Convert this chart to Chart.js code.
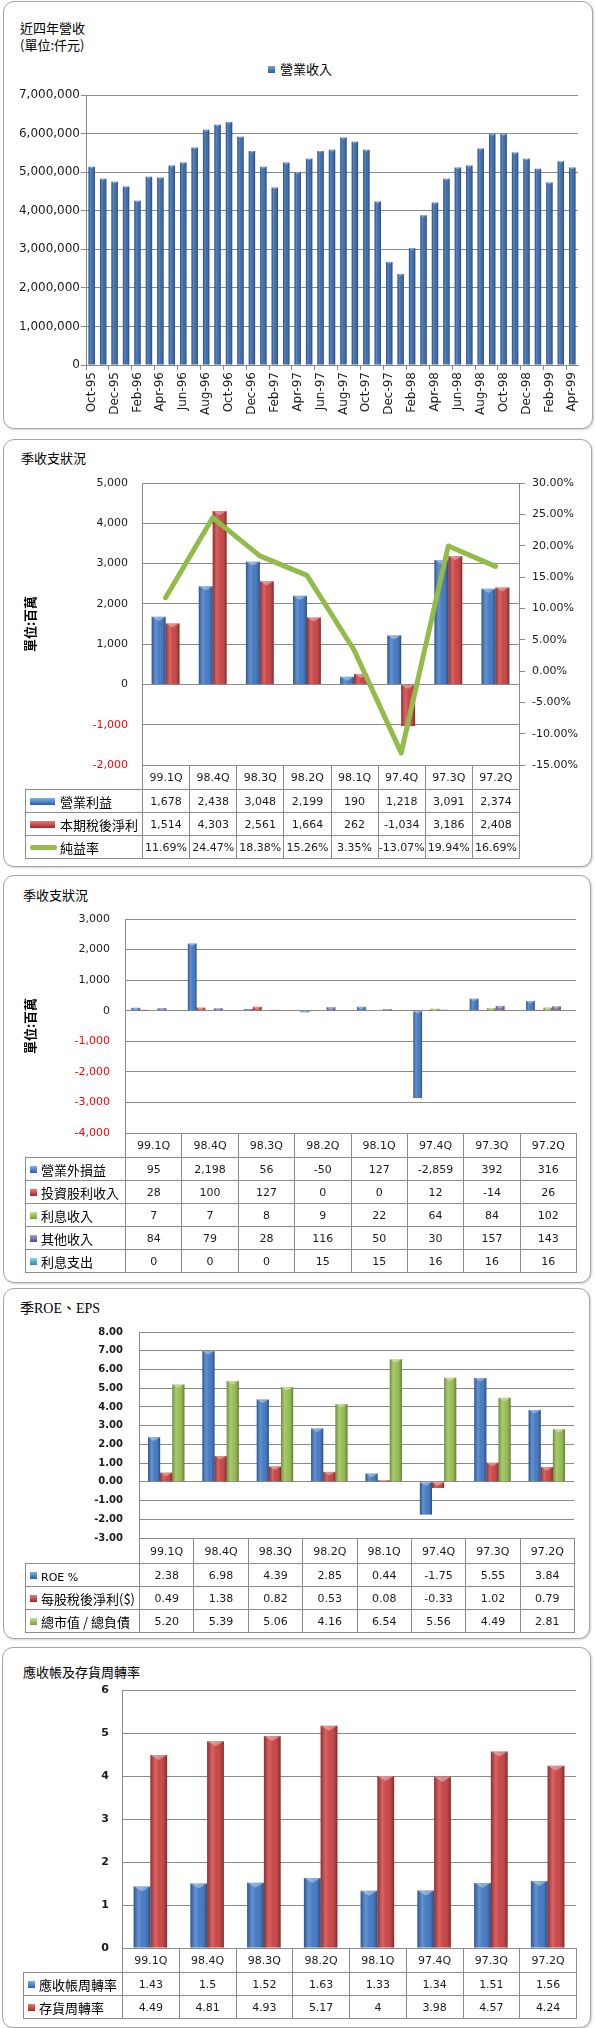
<!DOCTYPE html>
<html><head><meta charset="utf-8">
<script src="https://cdn.jsdelivr.net/npm/chart.js@4.4.1/dist/chart.umd.min.js"></script>
<style>
html,body{margin:0;padding:0;background:#fff;}
body{position:relative;width:595px;height:2028px;overflow:hidden;font-family:"DejaVu Sans",sans-serif;}
.panel{position:absolute;border:1px solid #a6a6a6;border-radius:11px;box-shadow:1px 1px 2px rgba(0,0,0,0.18);background:#fff;}
.ttl{position:absolute;font-family:"Noto Sans CJK TC",sans-serif;font-size:13px;color:#000;line-height:17px;white-space:nowrap;}
.ttl.serif{font-family:"Liberation Serif","Noto Sans CJK TC",serif;font-size:14px;}
canvas.c{position:absolute;left:0;}
.leg{position:absolute;font-family:"Noto Sans CJK TC",sans-serif;font-size:13px;color:#000;white-space:nowrap;line-height:16px;}
table.dt{position:absolute;border-collapse:collapse;table-layout:fixed;font-family:"DejaVu Sans",sans-serif;font-size:11px;color:#1a1a1a;}
table.dt td{border:1px solid #8c8c8c;text-align:center;padding:0;white-space:nowrap;overflow:hidden;}
table.dt td.blank{border:none;}
table.dt td.lab{text-align:left;font-family:"Noto Sans CJK TC",sans-serif;font-size:13px;padding-left:4px;color:#000;}
.key{display:inline-block;vertical-align:middle;margin-right:4px;position:relative;top:-1px;}
</style></head><body>

<div class="panel" style="left:3px;top:1px;width:588px;height:426px;"></div>
<div class="panel" style="left:3px;top:439px;width:587px;height:426px;"></div>
<div class="panel" style="left:3px;top:875px;width:586px;height:406px;"></div>
<div class="panel" style="left:3px;top:1288px;width:585px;height:349px;"></div>
<div class="panel" style="left:2px;top:1647px;width:587px;height:379px;"></div>

<div class="ttl" style="left:20px;top:19px;">近四年營收<br>(單位:仟元)</div>
<div class="leg" style="left:268px;top:61px;"><span class="key" style="width:7px;height:7px;margin-right:5px;background:linear-gradient(#6f9fdc,#2d5c9c);"></span>營業收入</div>
<div class="ttl" style="left:21px;top:449px;">季收支狀況</div>
<div class="ttl" style="left:23px;top:886px;">季收支狀況</div>
<div class="ttl serif" style="left:20px;top:1300px;">季ROE、EPS</div>
<div class="ttl" style="left:23px;top:1663px;">應收帳及存貨周轉率</div>

<canvas id="c1" class="c" width="595" height="430" style="top:0px;width:595px;height:430px;"></canvas>
<canvas id="c2" class="c" width="595" height="427" style="top:439px;width:595px;height:427px;"></canvas>
<canvas id="c3" class="c" width="595" height="407" style="top:875px;width:595px;height:407px;"></canvas>
<canvas id="c4" class="c" width="595" height="350" style="top:1288px;width:595px;height:350px;"></canvas>
<canvas id="c5" class="c" width="595" height="380" style="top:1647px;width:595px;height:380px;"></canvas>

<script>
// ---------- DATA ----------
const revenueMonths = ['Oct-95','Nov-95','Dec-95','Jan-96','Feb-96','Mar-96','Apr-96','May-96','Jun-96','Jul-96','Aug-96','Sep-96',
  'Oct-96','Nov-96','Dec-96','Jan-97','Feb-97','Mar-97','Apr-97','May-97','Jun-97','Jul-97','Aug-97','Sep-97',
  'Oct-97','Nov-97','Dec-97','Jan-98','Feb-98','Mar-98','Apr-98','May-98','Jun-98','Jul-98','Aug-98','Sep-98',
  'Oct-98','Nov-98','Dec-98','Jan-99','Feb-99','Mar-99','Apr-99'];
const revenueValues = [5140000,4830000,4750000,4630000,4260000,4880000,4860000,5170000,5250000,5640000,6100000,6230000,
  6300000,5920000,5550000,5140000,4600000,5250000,5000000,5350000,5550000,5580000,5900000,5790000,
  5580000,4240000,2670000,2360000,3030000,3880000,4210000,4830000,5120000,5170000,5610000,5990000,
  5990000,5510000,5350000,5090000,4730000,5280000,5120000];
const revenueTicks = [0,1000000,2000000,3000000,4000000,5000000,6000000,7000000];

const quarters = ['99.1Q','98.4Q','98.3Q','98.2Q','98.1Q','97.4Q','97.3Q','97.2Q'];

const operatingIncome = [1678,2438,3048,2199,190,1218,3091,2374];
const netIncome = [1514,4303,2561,1664,262,-1034,3186,2408];
const netMargin = [11.69,24.47,18.38,15.26,3.35,-13.07,19.94,16.69];

const nonOperating = [95,2198,56,-50,127,-2859,392,316];
const investDividend = [28,100,127,0,0,12,-14,26];
const interestIncome = [7,7,8,9,22,64,84,102];
const otherIncome = [84,79,28,116,50,30,157,143];
const interestExpense = [0,0,0,15,15,16,16,16];

const roe = [2.38,6.98,4.39,2.85,0.44,-1.75,5.55,3.84];
const eps = [0.49,1.38,0.82,0.53,0.08,-0.33,1.02,0.79];
const mvToDebt = [5.20,5.39,5.06,4.16,6.54,5.56,4.49,2.81];

const arTurnover = [1.43,1.5,1.52,1.63,1.33,1.34,1.51,1.56];
const invTurnover = [4.49,4.81,4.93,5.17,4,3.98,4.57,4.24];

// ---------- STYLE ----------
const BLUE = '#3a73c2', RED = '#c83a3a', GREEN = '#92bb4a', PURPLE = '#7d62a6', AQUA = '#48aec8';
const GRID = '#8a8a8a', TXT = '#1a1a1a';
Chart.defaults.font.family = 'DejaVu Sans';
Chart.defaults.animation = false;

const bevel = {
  id: 'bevel',
  afterDatasetDraw(chart, args) {
    const meta = args.meta;
    if (meta.type !== 'bar' || meta.hidden) return;
    const ctx = chart.ctx;
    const a = chart.chartArea;
    ctx.save();
    ctx.beginPath(); ctx.rect(a.left, a.top, a.right - a.left, a.bottom - a.top); ctx.clip();
    meta.data.forEach(el => {
      const x = el.x, y = el.y, base = el.base, w = el.width;
      const top = Math.min(y, base), bot = Math.max(y, base), h = bot - top;
      if (h < 0.5) return;
      const l = x - w / 2;
      const g = ctx.createLinearGradient(l, 0, l + w, 0);
      g.addColorStop(0, 'rgba(0,0,0,0.25)');
      g.addColorStop(0.3, 'rgba(255,255,255,0.22)');
      g.addColorStop(0.55, 'rgba(255,255,255,0.06)');
      g.addColorStop(1, 'rgba(0,0,0,0.35)');
      ctx.fillStyle = g;
      ctx.fillRect(l, top, w, h);
      const capH = Math.min(w * 0.3, h);
      ctx.fillStyle = 'rgba(255,255,255,0.35)';
      ctx.beginPath(); ctx.moveTo(l, top); ctx.lineTo(l + w, top); ctx.lineTo(x, top + capH); ctx.closePath(); ctx.fill();
    });
    ctx.restore();
  }
};
Chart.register(bevel);

const fmtInt = v => Number(v).toLocaleString('en-US');
const negRed = c => (c.tick && c.tick.value < 0) ? '#ff0000' : TXT;
const fixW = w => s => { s.width = w; };
const fixH = h => s => { s.height = h; };

function hiddenX(h) {
  return { type: 'category', offset: true, afterFit: fixH(h),
    ticks: { display: false }, grid: { display: false },
    border: { display: true, color: GRID, width: 1 } };
}

// ---------- CHART 1 ----------
new Chart(document.getElementById('c1'), {
  type: 'bar',
  data: { labels: revenueMonths, datasets: [{ label: '營業收入', data: revenueValues, backgroundColor: '#2f62a8',
    categoryPercentage: 1, barPercentage: 0.56 }] },
  options: {
    responsive: false,
    layout: { padding: { left: 6, right: 17, top: 95, bottom: 10 } },
    plugins: { legend: { display: false }, tooltip: { enabled: false } },
    scales: {
      x: { offset: true, afterFit: fixH(55),
        grid: { display: true, drawOnChartArea: false, drawTicks: true, tickLength: 5,
          tickColor: c => (c.index % 2 === 0) ? GRID : 'rgba(0,0,0,0)' },
        border: { display: true, color: GRID },
        ticks: { autoSkip: false, minRotation: 90, maxRotation: 90, padding: 2, color: TXT,
          font: { size: 12 },
          callback: function (v, i) { return i % 2 === 0 ? this.getLabelForValue(v) : ''; } } },
      y: { min: 0, max: 7000000, afterFit: fixW(80),
        afterBuildTicks: s => { s.ticks = revenueTicks.map(v => ({ value: v })); },
        grid: { color: GRID, drawTicks: true, tickLength: 5 },
        border: { display: true, color: GRID },
        ticks: { padding: 1, color: TXT, font: { size: 12 }, callback: v => fmtInt(v) } }
    }
  }
});

// ---------- TABLE helper ----------
function keyHTML(k) {
  if (k.kind === 'wide') return `<span class="key" style="width:25px;height:7px;margin-right:5px;background:linear-gradient(${k.c1},${k.c2});"></span>`;
  if (k.kind === 'line') return `<span class="key" style="width:27px;height:5px;margin-right:3px;border-radius:3px;background:${k.c1};"></span>`;
  return `<span class="key" style="width:7px;height:7px;background:linear-gradient(${k.c1},${k.c2});"></span>`;
}
function buildTable(chart, canvasTop, tableLeft, hdrH, rowH, rows) {
  const a = chart.chartArea;
  const plotL = a.left, plotR = a.right, top = canvasTop + a.bottom;
  const n = quarters.length, colW = (plotR - plotL) / n;
  const t = document.createElement('table');
  t.className = 'dt';
  t.style.left = tableLeft + 'px'; t.style.top = top + 'px'; t.style.width = (plotR - tableLeft) + 'px';
  let html = '<colgroup><col style="width:' + (plotL - tableLeft) + 'px">';
  for (let i = 0; i < n; i++) html += '<col style="width:' + colW + 'px">';
  html += '</colgroup>';
  html += '<tr style="height:' + hdrH + 'px"><td class="blank"></td>' + quarters.map(q => '<td>' + q + '</td>').join('') + '</tr>';
  rows.forEach(r => {
    html += '<tr style="height:' + rowH + 'px"><td class="lab">' + keyHTML(r.key) + r.label + '</td>' +
      r.values.map(v => '<td>' + r.fmt(v) + '</td>').join('') + '</tr>';
  });
  t.innerHTML = html;
  document.body.appendChild(t);
}

// ---------- CHART 2 ----------
const ch2 = new Chart(document.getElementById('c2'), {
  type: 'bar',
  data: { labels: quarters, datasets: [
    { type: 'line', label: '純益率', data: netMargin, yAxisID: 'y1', borderColor: GREEN, borderWidth: 5,
      pointRadius: 0, tension: 0, borderJoinStyle: 'round', borderCapStyle: 'round', order: 0 },
    { label: '營業利益', data: operatingIncome, backgroundColor: BLUE, yAxisID: 'y', order: 1,
      categoryPercentage: 0.59, barPercentage: 1 },
    { label: '本期稅後淨利', data: netIncome, backgroundColor: RED, yAxisID: 'y', order: 1,
      categoryPercentage: 0.59, barPercentage: 1 }
  ] },
  options: {
    responsive: false,
    layout: { padding: { left: 18, right: 6, top: 44, bottom: 101 } },
    plugins: { legend: { display: false }, tooltip: { enabled: false } },
    scales: {
      x: hiddenX(0),
      y: { position: 'left', min: -2000, max: 5000, afterFit: fixW(124),
        grid: { color: GRID, drawTicks: false },
        border: { display: true, color: GRID },
        title: { display: true, text: '單位:百萬', color: '#000', font: { family: 'Noto Sans CJK TC', size: 13, weight: 'bold' } },
        ticks: { stepSize: 1000, padding: 14, color: negRed, font: { size: 11 }, callback: v => fmtInt(v) } },
      y1: { position: 'right', min: -15, max: 30, afterFit: fixW(70),
        grid: { drawOnChartArea: false, drawTicks: true, tickLength: 6, color: GRID },
        border: { display: true, color: GRID },
        ticks: { stepSize: 5, padding: 7, color: TXT, font: { size: 11 }, callback: v => Number(v).toFixed(2) + '%' } }
    }
  }
});
buildTable(ch2, 439, 25, 24, 23, [
  { label: '營業利益', key: { kind: 'wide', c1: '#7fb0ea', c2: '#2a5ea8' }, values: operatingIncome, fmt: fmtInt },
  { label: '本期稅後淨利', key: { kind: 'wide', c1: '#e87a7a', c2: '#a82424' }, values: netIncome, fmt: fmtInt },
  { label: '純益率', key: { kind: 'line', c1: GREEN }, values: netMargin, fmt: v => v.toFixed(2) + '%' }
]);

// ---------- CHART 3 ----------
const bp3 = { categoryPercentage: 0.77, barPercentage: 1 };
const ch3 = new Chart(document.getElementById('c3'), {
  type: 'bar',
  data: { labels: quarters, datasets: [
    Object.assign({ label: '營業外損益', data: nonOperating, backgroundColor: BLUE }, bp3),
    Object.assign({ label: '投資股利收入', data: investDividend, backgroundColor: RED }, bp3),
    Object.assign({ label: '利息收入', data: interestIncome, backgroundColor: GREEN }, bp3),
    Object.assign({ label: '其他收入', data: otherIncome, backgroundColor: PURPLE }, bp3),
    Object.assign({ label: '利息支出', data: interestExpense, backgroundColor: AQUA }, bp3)
  ] },
  options: {
    responsive: false,
    layout: { padding: { left: 18, right: 19, top: 44, bottom: 149 } },
    plugins: { legend: { display: false }, tooltip: { enabled: false } },
    scales: {
      x: hiddenX(0),
      y: { min: -4000, max: 3000, afterFit: fixW(107),
        grid: { color: GRID, drawTicks: false },
        border: { display: true, color: GRID },
        title: { display: true, text: '單位:百萬', color: '#000', font: { family: 'Noto Sans CJK TC', size: 13, weight: 'bold' } },
        ticks: { stepSize: 1000, padding: 15, color: negRed, font: { size: 11 }, callback: v => fmtInt(v) } }
    }
  }
});
buildTable(ch3, 875, 25, 24, 23, [
  { label: '營業外損益', key: { kind: 'sq', c1: '#7fb0ea', c2: '#2a5ea8' }, values: nonOperating, fmt: fmtInt },
  { label: '投資股利收入', key: { kind: 'sq', c1: '#e87a7a', c2: '#a82424' }, values: investDividend, fmt: fmtInt },
  { label: '利息收入', key: { kind: 'sq', c1: '#c8e08a', c2: '#7a9c30' }, values: interestIncome, fmt: fmtInt },
  { label: '其他收入', key: { kind: 'sq', c1: '#b09ad0', c2: '#5e4688' }, values: otherIncome, fmt: fmtInt },
  { label: '利息支出', key: { kind: 'sq', c1: '#8ad4e8', c2: '#2a8ca8' }, values: interestExpense, fmt: fmtInt }
]);

// ---------- CHART 4 ----------
const bp4 = { categoryPercentage: 0.67, barPercentage: 1 };
const ch4 = new Chart(document.getElementById('c4'), {
  type: 'bar',
  data: { labels: quarters, datasets: [
    Object.assign({ label: 'ROE %', data: roe, backgroundColor: BLUE }, bp4),
    Object.assign({ label: '每股稅後淨利($)', data: eps, backgroundColor: RED }, bp4),
    Object.assign({ label: '總市值 / 總負債', data: mvToDebt, backgroundColor: GREEN }, bp4)
  ] },
  options: {
    responsive: false,
    layout: { padding: { left: 6, right: 21, top: 44, bottom: 100 } },
    plugins: { legend: { display: false }, tooltip: { enabled: false } },
    scales: {
      x: hiddenX(0),
      y: { min: -3, max: 8, afterFit: fixW(133),
        grid: { color: GRID, drawTicks: false },
        border: { display: true, color: GRID },
        ticks: { stepSize: 1, padding: 16, color: TXT, font: { size: 10, weight: 'bold' }, callback: v => Number(v).toFixed(2) } }
    }
  }
});
buildTable(ch4, 1288, 25, 25, 23, [
  { label: '<span style="font-family:DejaVu Sans;font-size:11px">ROE %</span>', key: { kind: 'sq', c1: '#7fb0ea', c2: '#2a5ea8' }, values: roe, fmt: v => v.toFixed(2) },
  { label: '每股稅後淨利($)', key: { kind: 'sq', c1: '#e87a7a', c2: '#a82424' }, values: eps, fmt: v => v.toFixed(2) },
  { label: '總市值 / 總負債', key: { kind: 'sq', c1: '#c8e08a', c2: '#7a9c30' }, values: mvToDebt, fmt: v => v.toFixed(2) }
]);

// ---------- CHART 5 ----------
const bp5 = { categoryPercentage: 0.59, barPercentage: 1 };
const ch5 = new Chart(document.getElementById('c5'), {
  type: 'bar',
  data: { labels: quarters, datasets: [
    Object.assign({ label: '應收帳周轉率', data: arTurnover, backgroundColor: BLUE }, bp5),
    Object.assign({ label: '存貨周轉率', data: invTurnover, backgroundColor: RED }, bp5)
  ] },
  options: {
    responsive: false,
    layout: { padding: { left: 6, right: 19, top: 43, bottom: 79 } },
    plugins: { legend: { display: false }, tooltip: { enabled: false } },
    scales: {
      x: hiddenX(0),
      y: { min: 0, max: 6, afterFit: fixW(116),
        grid: { color: GRID, drawTicks: false },
        border: { display: true, color: GRID },
        ticks: { stepSize: 1, padding: 13, color: TXT, font: { size: 11, weight: 'bold' }, callback: v => String(v) } }
    }
  }
});
buildTable(ch5, 1647, 23, 24, 23, [
  { label: '應收帳周轉率', key: { kind: 'sq', c1: '#7fb0ea', c2: '#2a5ea8' }, values: arTurnover, fmt: v => String(v) },
  { label: '存貨周轉率', key: { kind: 'sq', c1: '#e87a7a', c2: '#a82424' }, values: invTurnover, fmt: v => String(v) }
]);
</script>
</body></html>
